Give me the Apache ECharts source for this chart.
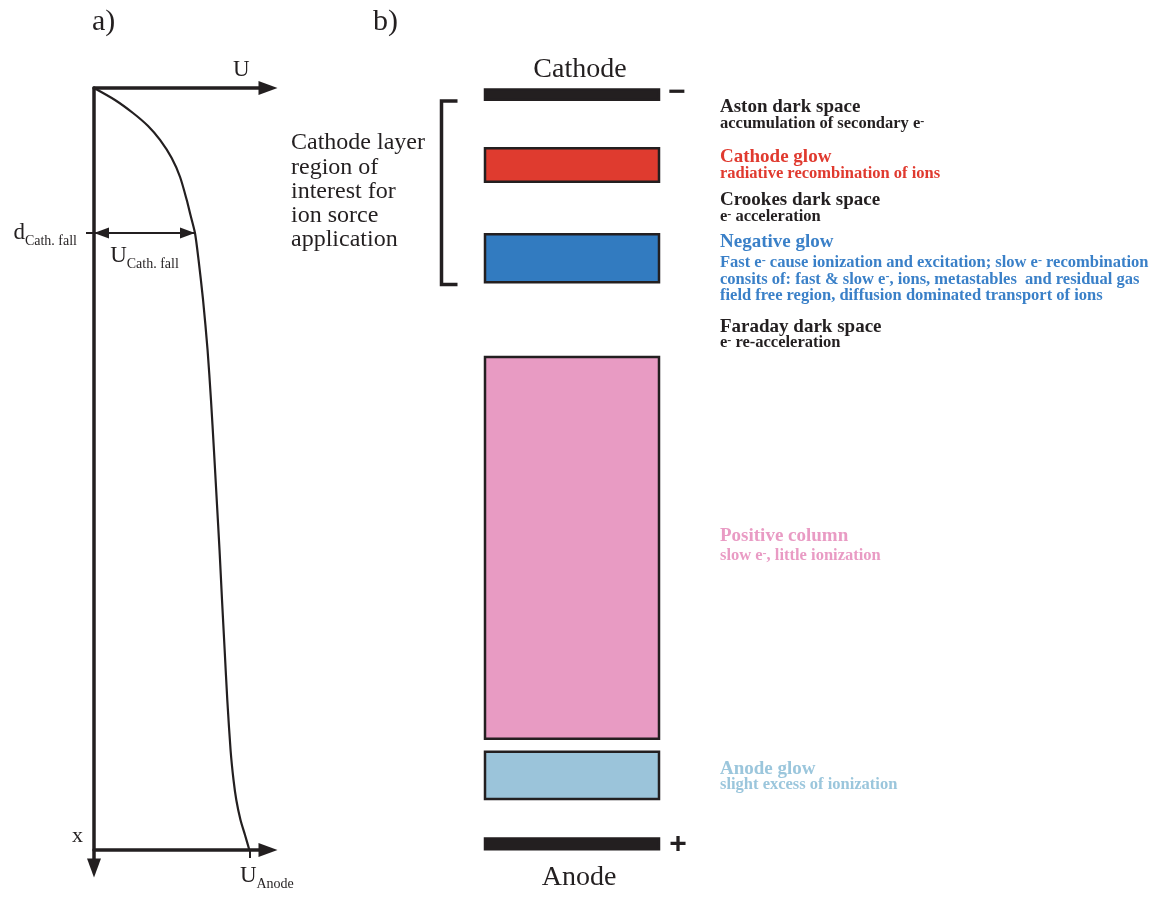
<!DOCTYPE html>
<html>
<head>
<meta charset="utf-8">
<title>Glow discharge structure</title>
<script src="https://cdn.jsdelivr.net/npm/echarts@6/dist/echarts.min.js"></script>
<style>
  html, body { margin: 0; padding: 0; background: #ffffff; }
  #chart { width: 1168px; height: 899px; }
</style>
</head>
<body>
<div id="chart"></div>
<script>
// ---- a) potential U along the discharge (depth in % of the cathode-anode gap) ----
const potentialDepth = [0, 1.57, 3.28, 4.99, 6.82, 9.19, 11.68, 14.70, 16.67, 19.03, 22.57, 27.82, 34.38,
                        40.94, 47.51, 54.07, 60.63, 67.19, 73.75, 80.31, 86.88, 90.81, 93.44, 96.06, 98.03, 100];
const potentialU     = [0, 13.5, 25.1, 34.8, 42.5, 50.0, 55.4, 59.7, 62.1, 65.0, 67.3, 70.2, 73.1,
                        75.3, 77.2, 79.0, 80.8, 82.4, 84.1, 85.8, 87.9, 89.8, 91.6, 94.3, 97.2, 100];
const cathodeFallDepth = 19.03;
const cathodeFallU = 65.0;
const anodeU = 100;

// ---- b) discharge zones (depth start / end, %) ----
const zoneNames  = ['Cathode', 'Cathode glow', 'Negative glow', 'Positive column', 'Anode glow', 'Anode'];
const zoneStart  = [0.2, 7.9, 19.2, 35.3, 87.1, 98.5];
const zoneEnd    = [1.55, 12.3, 25.5, 85.4, 93.3, 99.9];
const zoneColors = ['#231f20', '#df3b2f', '#327bc0', '#e89bc3', '#9bc4da', '#231f20'];
const cathodeLayer = [1.7, 25.8];

// ---- zone descriptions ----
const noteTitles = ['Aston dark space', 'Cathode glow', 'Crookes dark space', 'Negative glow',
                    'Faraday dark space', 'Positive column', 'Anode glow'];
const noteDetails = [
  ['accumulation of secondary e{s|-}'],
  ['radiative recombination of ions'],
  ['e{s|-} acceleration'],
  ['Fast e{s|-} cause ionization and excitation; slow e{s|-} recombination',
   'consits of: fast & slow e{s|-}, ions, metastables  and residual gas',
   'field free region, diffusion dominated transport of ions'],
  ['e{s|-} re-acceleration'],
  ['slow e{s|-}, little ionization'],
  ['slight excess of ionization']
];
const noteColors = ['#231f20', '#e03a2f', '#231f20', '#3a80c8', '#231f20', '#e99bc4', '#9bc6dc'];
const layerCaption = ['Cathode layer', 'region of', 'interest for', 'ion sorce', 'application'];

const SERIF = "'Liberation Serif', 'Times New Roman', serif";
const SANS = "'Liberation Sans', Arial, sans-serif";
const INK = '#231f20';

const chart = echarts.init(document.getElementById('chart'));

// main letter + subscript, e.g. U_Anode
const subRich = {
  m: { fontFamily: SERIF, fontSize: 23, color: INK, lineHeight: 30 },
  s: { fontFamily: SERIF, fontSize: 14, color: INK, lineHeight: 14, verticalAlign: 'bottom' }
};

// potential curve as (U, depth) pairs
const curveData = potentialDepth.map((d, i) => [potentialU[i], d]);
const zoneData = zoneStart.map((s, i) => [s, zoneEnd[i], i]);

// text blocks on the right of panel b
const noteTitleY = [107, 157, 200, 242, 327, 536, 769];
const noteDetailY = [124, 174, 217, 263, 343, 556, 785];
const graphics = [];
function addText(x, y, text, font, color, align, rich) {
  graphics.push({
    type: 'text', x: x, y: y, silent: true,
    style: {
      text: text, font: font, fill: color,
      align: align || 'left', textAlign: align || 'left',
      verticalAlign: 'middle', textVerticalAlign: 'middle',
      rich: rich
    }
  });
}
noteTitles.forEach((t, i) => {
  addText(720, noteTitleY[i], t, "bold 19px " + SERIF, noteColors[i]);
  noteDetails[i].forEach((line, j) => {
    addText(720, noteDetailY[i] + j * 16.3, line, "bold 16.5px " + SERIF, noteColors[i], 'left', {
      s: { fontFamily: SERIF, fontWeight: 'bold', fontSize: 12, lineHeight: 10, verticalAlign: 'top', fill: noteColors[i] }
    });
  });
});
layerCaption.forEach((t, i) => addText(291, 143 + i * 24.3, t, "24px " + SERIF, INK));
addText(92, 22, 'a)', "30px " + SERIF, INK);
addText(373, 22, 'b)', "30px " + SERIF, INK);
addText(233, 70, 'U', "23px " + SERIF, INK);
addText(72, 836, 'x', "22px " + SERIF, INK);
addText(580, 70, 'Cathode', "28px " + SERIF, INK, 'center');
addText(579, 878, 'Anode', "28px " + SERIF, INK, 'center');
addText(677, 93, '\u2212', "bold 30px " + SANS, INK, 'center');
addText(678, 845, '+', "bold 30px " + SANS, INK, 'center');

const option = {
  backgroundColor: '#ffffff',
  animation: false,
  grid: [
    { left: 94, top: 88, width: 174, height: 762 },   // a) curve frame
    { left: 94, top: 88, width: 174, height: 780 },   // a) depth axis with arrow
    { left: 485, top: 88, width: 174, height: 762 }   // b) zones
  ],
  xAxis: [
    { gridIndex: 0, type: 'value', position: 'top', min: 0, max: 112,
      axisLine: { show: true, onZero: false, symbol: ['none', 'triangle'], symbolSize: [14, 19],
                  lineStyle: { color: INK, width: 3.5 } },
      axisTick: { show: false }, axisLabel: { show: false }, splitLine: { show: false } },
    { gridIndex: 0, type: 'value', position: 'bottom', min: 0, max: 112,
      axisLine: { show: true, onZero: false, symbol: ['none', 'triangle'], symbolSize: [14, 19],
                  lineStyle: { color: INK, width: 3.5 } },
      axisTick: { show: true, customValues: [anodeU], length: 8, lineStyle: { color: INK, width: 2 } },
      axisLabel: { show: true, customValues: [anodeU], margin: 11, padding: [0, 0, 0, 35],
                   formatter: () => '{m|U}{s|Anode}', rich: subRich },
      splitLine: { show: false } },
    { gridIndex: 1, type: 'value', show: false, min: 0, max: 1 },
    { gridIndex: 2, type: 'value', show: false, min: 0, max: 1 }
  ],
  yAxis: [
    { gridIndex: 0, type: 'value', inverse: true, min: 0, max: 100,
      axisLine: { show: false },
      axisTick: { show: true, customValues: [cathodeFallDepth], length: 8, lineStyle: { color: INK, width: 2 } },
      axisLabel: { show: true, customValues: [cathodeFallDepth], margin: 17,
                   formatter: () => '{m|d}{s|Cath. fall}', rich: subRich },
      splitLine: { show: false } },
    { gridIndex: 1, type: 'value', inverse: true, min: 0, max: 1,
      axisLine: { show: true, onZero: false, symbol: ['triangle', 'none'], symbolSize: [14, 19],
                  lineStyle: { color: INK, width: 3.5 } },
      axisTick: { show: false }, axisLabel: { show: false }, splitLine: { show: false } },
    { gridIndex: 2, type: 'value', inverse: true, min: 0, max: 100, show: false }
  ],
  series: [
    {
      name: 'U(x)', type: 'line', xAxisIndex: 0, yAxisIndex: 0,
      data: curveData, smooth: 0.25, showSymbol: false, silent: true,
      lineStyle: { color: INK, width: 2.2 },
      markLine: {
        silent: true, animation: false,
        symbol: ['triangle', 'triangle'], symbolSize: [11, 15], symbolOffset: [[0, 7.5], [0, 7.5]],
        lineStyle: { color: INK, width: 2, type: 'solid' },
        label: { show: true, position: 'insideMiddleBottom', distance: 8,
                 formatter: () => '{m|U}{s|Cath. fall}', rich: subRich },
        data: [[{ coord: [0, cathodeFallDepth] }, { coord: [cathodeFallU, cathodeFallDepth] }]]
      }
    },
    {
      name: 'zones', type: 'custom', xAxisIndex: 3, yAxisIndex: 2,
      data: zoneData, silent: true,
      renderItem: (params, api) => {
        const p0 = api.coord([0, api.value(0)]);
        const p1 = api.coord([1, api.value(1)]);
        const color = zoneColors[api.value(2)];
        return {
          type: 'rect',
          shape: { x: p0[0], y: p0[1], width: p1[0] - p0[0], height: p1[1] - p0[1] },
          style: { fill: color, stroke: INK, lineWidth: 2.5 }
        };
      }
    },
    {
      name: 'cathode layer', type: 'custom', xAxisIndex: 3, yAxisIndex: 2,
      data: [cathodeLayer], silent: true,
      renderItem: (params, api) => {
        const top = api.coord([0, api.value(0)]);
        const bot = api.coord([0, api.value(1)]);
        const xv = top[0] - 43.5, xe = top[0] - 27.5;
        return {
          type: 'polyline',
          shape: { points: [[xe, top[1]], [xv, top[1]], [xv, bot[1]], [xe, bot[1]]] },
          style: { fill: null, stroke: INK, lineWidth: 3.5, lineJoin: 'miter' }
        };
      }
    }
  ],
  graphic: { elements: graphics }
};

chart.setOption(option);
</script>
</body>
</html>
